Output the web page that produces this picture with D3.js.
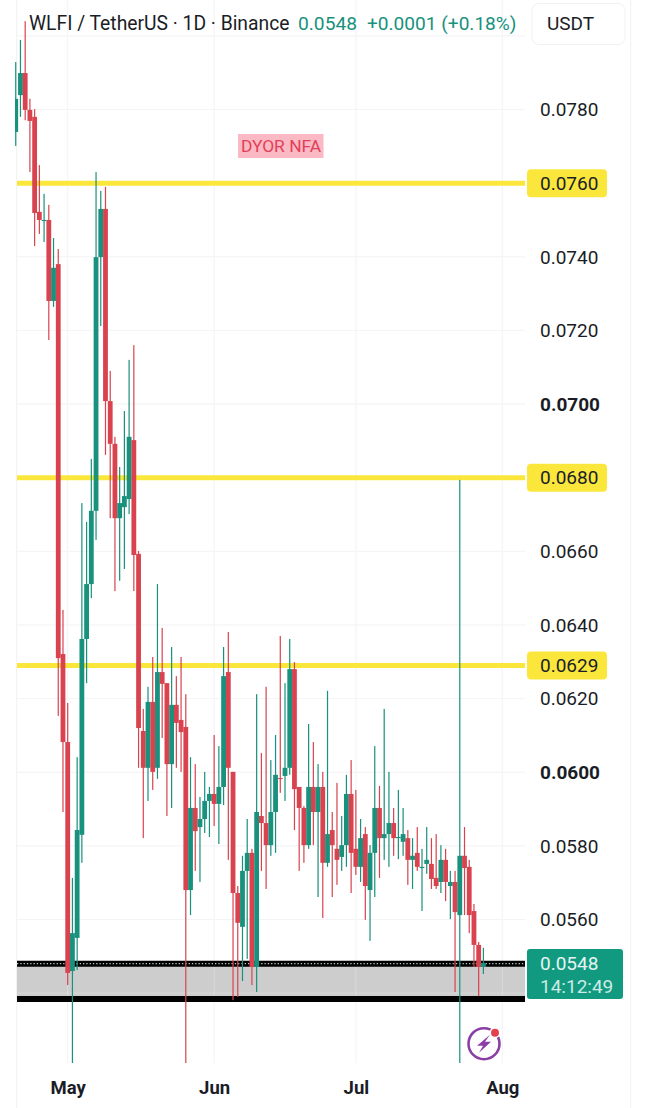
<!DOCTYPE html>
<html>
<head>
<meta charset="utf-8">
<script src="https://cdn.jsdelivr.net/npm/d3@7"></script>
<style>
html,body{margin:0;padding:0;background:#fff}
svg{display:block}
text{font-family:Roboto,"Noto Sans",sans-serif}
</style>
</head>
<body>
<svg id="c" width="647" height="1108"></svg>
<script>
const firstDay = -11;
const opens = [.07739,.07839,.07899,.07799,.07780,.07522,.07497,.07500,.07280,.07380,.06321,.06082,.05460,.05550,.05830,.06362,.06511,.06710,.07399,.07530,.07008,.06892,.06690,.06720,.06742,.06902,.06593,.06112,.06012,.06191,.06012,.06272,.06242,.06022,.06183,.06142,.06123,.05680,.05903,.05851,.05873,.05922,.05941,.05914,.05960,.06272,.06001,.05672,.05580,.05732,.05781,.05471,.05881,.05862,.05802,.05892,.05984,.05990,.06012,.06280,.05960,.05903,.05802,.05960,.05892,.05960,.05754,.05843,.05792,.05770,.05802,.05941,.05792,.05743,.05832,.05680,.05781,.05903,.05821,.05832,.05862,.05821,.05811,.05821,.05762,.05781,.05740,.05751,.05751,.05713,.05702,.05762,.05691,.05702,.05612,.05773,.05743,.05623,.05531,.05471];
const highs = [.07929,.07989,.08040,.07829,.07801,.07649,.07571,.07541,.07451,.07421,.06441,.06188,.05713,.06041,.06731,.06680,.06851,.07630,.07579,.07590,.07090,.06911,.06829,.06981,.07120,.07160,.06601,.06172,.06232,.06313,.06511,.06392,.06242,.06340,.06261,.06313,.06212,.06041,.06022,.05933,.06001,.05960,.06101,.06071,.06340,.06381,.06001,.05691,.05773,.05873,.05792,.06212,.06052,.06232,.06033,.06101,.06370,.06242,.06362,.06299,.05960,.05908,.06131,.06082,.06022,.06001,.06221,.05892,.05971,.05881,.05993,.06033,.05952,.05873,.05851,.05802,.06071,.05963,.06172,.06001,.05903,.05952,.05903,.05843,.05821,.05851,.05792,.05851,.05821,.05832,.05802,.05792,.05732,.05732,.06794,.05851,.05762,.05642,.05539,.05523];
const lows = [.07701,.07780,.07771,.07630,.07429,.07462,.07440,.07174,.07264,.06153,.05892,.05422,.05210,.05463,.05754,.06242,.06473,.06631,.07212,.06862,.06690,.06492,.06520,.06552,.06701,.06492,.06012,.05821,.05922,.05952,.05982,.06093,.05881,.05903,.06012,.06001,.05210,.05612,.05732,.05702,.05835,.05824,.05854,.05805,.05911,.05762,.05381,.05390,.05433,.05493,.05422,.05403,.05732,.05683,.05773,.05781,.05944,.05922,.05993,.05843,.05732,.05754,.05792,.05802,.05661,.05604,.05743,.05661,.05694,.05732,.05743,.05672,.05721,.05702,.05599,.05542,.05661,.05713,.05762,.05743,.05773,.05764,.05773,.05694,.05683,.05732,.05623,.05724,.05683,.05683,.05672,.05650,.05601,.05403,.05210,.05612,.05563,.05471,.05392,.05452];
const closes = [.07829,.07899,.07799,.07769,.07519,.07500,.07500,.07280,.07370,.06310,.06082,.05455,.05563,.05843,.06362,.06511,.06710,.07399,.07530,.07008,.06892,.06690,.06731,.06750,.06911,.06590,.06120,.06012,.06191,.06001,.06272,.06240,.06022,.06183,.06134,.06109,.05680,.05903,.05840,.05873,.05922,.05941,.05914,.05960,.06261,.06012,.05672,.05591,.05732,.05781,.05471,.05892,.05862,.05802,.05892,.05993,.05982,.06012,.06280,.05954,.05903,.05802,.05960,.05892,.05960,.05754,.05832,.05802,.05762,.05802,.05941,.05781,.05743,.05821,.05691,.05781,.05903,.05821,.05832,.05862,.05821,.05824,.05832,.05762,.05773,.05743,.05743,.05762,.05710,.05691,.05762,.05702,.05702,.05620,.05773,.05740,.05612,.05531,.05471,.05482];

const priceTicks = [0.080,0.078,0.076,0.074,0.072,0.070,0.068,0.066,0.064,0.062,0.060,0.058,0.056,0.054];
const labelledTicks = [0.078,0.074,0.072,0.070,0.066,0.064,0.062,0.060,0.058,0.056];
const boldTicks = ["0.0700","0.0600"];
const monthDays = [0,31,61,92];
const monthNames = ["May","Jun","Jul","Aug"];
const keyLevels = [0.0760,0.0680,0.0629];
const zoneTop = 0.0548, zoneBottom = 0.05384;
const lastPrice = 0.0548;
const countdown = "14:12:49";
const titleText = "WLFI / TetherUS · 1D · Binance";
const changeText = "+0.0001 (+0.18%)";

const W=647,H=1108,plotL=17,plotR=525,plotB=1063;
const UP="#18917d",DOWN="#d8434f",GRID="#f0f1f3",INK="#1a1d26",YEL="#fbe73c";
const x=d3.scaleLinear().domain([0,92]).range([67.7,502.3]);
const y=d3.scaleLinear().domain([0.078,0.056]).range([109.5,919.5]);
const svg=d3.select("#c");
svg.append("defs").append("clipPath").attr("id","plot").append("rect")
  .attr("x",plotL-2).attr("y",0).attr("width",plotR-plotL+2).attr("height",plotB);

// outer frame lines
svg.selectAll("line.frame").data([16.7,630.7]).join("line").attr("class","frame")
  .attr("x1",d=>d).attr("x2",d=>d).attr("y1",0).attr("y2",H).attr("stroke",GRID);

// grid
function drawGrid(color,opacity){
  svg.append("g").selectAll("line").data(priceTicks).join("line")
    .attr("x1",plotL).attr("x2",plotR).attr("y1",d=>y(d)).attr("y2",d=>y(d)).attr("stroke",color).attr("stroke-opacity",opacity);
  svg.append("g").selectAll("line").data(monthDays).join("line")
    .attr("x1",d=>x(d)).attr("x2",d=>x(d)).attr("y1",0).attr("y2",plotB).attr("stroke",color).attr("stroke-opacity",opacity);
}
drawGrid(GRID,1);

// support zone
svg.append("rect").attr("x",plotL).attr("width",plotR-plotL).attr("y",y(zoneTop)).attr("height",y(zoneBottom)-y(zoneTop)).attr("fill","#cdcdcd");
drawGrid("#fff",0.25);

// zone borders
svg.selectAll("line.zone").data([zoneTop,zoneBottom]).join("line").attr("class","zone")
  .attr("x1",plotL).attr("x2",plotR).attr("y1",d=>y(d)).attr("y2",d=>y(d)).attr("stroke","#000").attr("stroke-width",6);
svg.append("line").attr("x1",plotL).attr("x2",plotR).attr("y1",y(lastPrice)).attr("y2",y(lastPrice))
  .attr("stroke","#b9c9c4").attr("stroke-width",1.3).attr("stroke-dasharray","1.3 2");

// key levels
svg.selectAll("line.level").data(keyLevels).join("line").attr("class","level")
  .attr("x1",plotL).attr("x2",plotR).attr("y1",d=>y(d)).attr("y2",d=>y(d)).attr("stroke",YEL).attr("stroke-width",5);

// candles
const candles=d3.range(opens.length).map(i=>({d:firstDay+i,o:opens[i],h:highs[i],l:lows[i],c:closes[i]}));
const cg=svg.append("g").attr("clip-path","url(#plot)");
const one=cg.selectAll("g").data(candles).join("g").attr("fill",d=>d.c>=d.o?UP:DOWN);
one.append("rect").attr("x",d=>x(d.d)-0.6).attr("width",1.2).attr("y",d=>y(d.h)).attr("height",d=>y(d.l)-y(d.h));
one.append("rect").attr("x",d=>x(d.d)-2.4).attr("width",4.8)
  .attr("y",d=>y(Math.max(d.o,d.c))).attr("height",d=>Math.max(1,Math.abs(y(d.o)-y(d.c))));

// price axis
const axis=d3.axisRight(y).tickValues(labelledTicks).tickFormat(d3.format(".4f")).tickSize(0).tickPadding(0);
const ag=svg.append("g").attr("transform","translate(540,0)").call(axis);
ag.select(".domain").remove();
ag.selectAll("text").attr("x",0).attr("dy","0.33em").attr("font-size",19).attr("fill",INK)
  .attr("font-family","Roboto")
  .attr("font-weight",d=>boldTicks.includes(d3.format(".4f")(d))?700:400);

// key level tags
const tags=svg.selectAll("g.tag").data(keyLevels).join("g").attr("class","tag").attr("transform",d=>`translate(527,${y(d)})`);
tags.append("rect").attr("x",0).attr("y",-14).attr("width",80).attr("height",28).attr("rx",4).attr("fill",YEL);
tags.append("text").attr("x",13).attr("dy","0.34em").attr("font-size",19).attr("fill",INK).text(d=>d3.format(".4f")(d));

// last price tag
const lp=svg.append("g");
lp.append("rect").attr("x",527).attr("y",949).attr("width",96).attr("height",50).attr("rx",3).attr("fill","#119a80");
lp.append("text").attr("x",540).attr("y",970).attr("font-size",19).attr("fill","#e6f5f1").text(d3.format(".4f")(lastPrice));
lp.append("text").attr("x",540).attr("y",992.5).attr("font-size",19).attr("fill","#cdebe4").text(countdown);

// time axis
const xAxis=d3.axisBottom(x).tickValues(monthDays).tickFormat((d,i)=>monthNames[i]).tickSize(0).tickPadding(0);
const xg=svg.append("g").attr("transform","translate(0,1094)").call(xAxis);
xg.select(".domain").remove();
xg.selectAll("text").attr("y",0).attr("dy",0).attr("font-size",18.5).attr("font-weight",700).attr("fill",INK).attr("font-family","Roboto");

// header
svg.append("text").attr("x",29).attr("y",29.5).attr("font-size",19.3).attr("fill",INK).text(titleText);
svg.append("text").attr("x",298).attr("y",29.5).attr("font-size",19.2).attr("fill",UP).text(d3.format(".4f")(lastPrice));
svg.append("text").attr("x",367).attr("y",29.5).attr("font-size",19.1).attr("fill",UP).text(changeText);
svg.append("rect").attr("x",532).attr("y",3.5).attr("width",93).attr("height",41).attr("rx",7).attr("fill","#fff").attr("stroke","#f1f1f1");
svg.append("text").attr("x",547).attr("y",30).attr("font-size",19).attr("fill",INK).text("USDT");

// note
svg.append("rect").attr("x",238).attr("y",134).attr("width",85.5).attr("height",24).attr("fill","#fab9c3");
svg.append("text").attr("x",281).attr("y",152).attr("text-anchor","middle").attr("font-size",17.4).attr("fill","#e2405a").text("DYOR NFA");

// lightning badge
const badge=svg.append("g").attr("transform","translate(484,1043.7)");
badge.append("circle").attr("r",15.5).attr("fill","#fff").attr("stroke","#8b3fa6").attr("stroke-width",2.6);
badge.append("path").attr("d","M6,-9 L-7,2 L-1,2 L-5,9 L7,-2 L1,-2 Z").attr("fill","#8b3fa6");
badge.append("circle").attr("cx",11).attr("cy",-11).attr("r",5.5).attr("fill","#fff");
badge.append("circle").attr("cx",11).attr("cy",-11).attr("r",4).attr("fill","#e2414e");
</script>
</body>
</html>
